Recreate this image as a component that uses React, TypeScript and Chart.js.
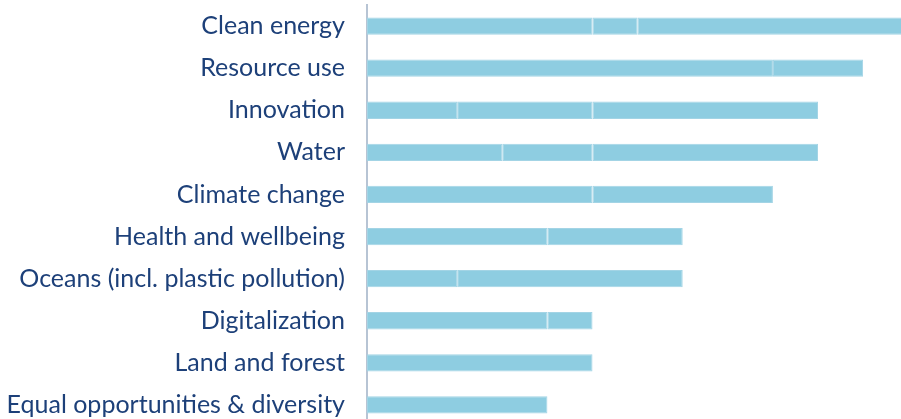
import React, { useEffect, useRef } from "react";
import { Chart, registerables } from "chart.js";

Chart.register(...registerables);

const categories = [
  "Clean energy",
  "Resource use",
  "Innovation",
  "Water",
  "Climate change",
  "Health and wellbeing",
  "Oceans (incl. plastic pollution)",
  "Digitalization",
  "Land and forest",
  "Equal opportunities & diversity",
];

const segmentA = [5, 9, 2, 3, 5, 4, 2, 4, 5, 4];
const segmentB = [1, 2, 3, 2, 4, 3, 5, 1, null, null];
const segmentC = [6, null, 5, 5, null, null, null, null, null, null];

const xMax = 11.84;

const BAR = "#8ecde1";
const EDGE = "#a3d4e5";
const TEXT = "#1d4079";

export default function App() {
  const ref = useRef<HTMLCanvasElement | null>(null);

  useEffect(() => {
    if (!ref.current) return;
    const mk = (data: (number | null)[]) => ({
      data,
      backgroundColor: BAR,
      borderColor: EDGE,
      borderWidth: 1,
      borderSkipped: false as const,
      barPercentage: 0.41,
      categoryPercentage: 1,
    });
    const chart = new Chart(ref.current, {
      type: "bar",
      data: {
        labels: categories,
        datasets: [mk(segmentA), mk(segmentB), mk(segmentC)],
      },
      options: {
        indexAxis: "y",
        animation: false,
        responsive: false,
        maintainAspectRatio: false,
        layout: { padding: { top: 5, left: 0, right: 0, bottom: 0 } },
        plugins: { legend: { display: false }, tooltip: { enabled: false } },
        scales: {
          x: {
            display: false,
            stacked: true,
            min: 0,
            max: xMax,
          },
          y: {
            stacked: true,
            grid: { drawOnChartArea: false, drawTicks: false },
            border: { display: true, color: "#b7c4d4", width: 2 },
            ticks: {
              color: TEXT,
              padding: 22,
              font: { family: "Lato", size: 25, weight: "normal" },
            },
            afterFit: (scale: any) => {
              scale.width = 367;
              scale.paddingTop = 0;
              scale.paddingBottom = 0;
            },
          },
        },
      },
    });
    return () => chart.destroy();
  }, []);

  return (
    <div
      style={{
        position: "fixed",
        top: 0,
        left: 0,
        width: 901,
        height: 419,
        overflow: "hidden",
        background: "#fff",
      }}
    >
      <canvas ref={ref} width={901} height={426} style={{ display: "block" }} />
    </div>
  );
}
